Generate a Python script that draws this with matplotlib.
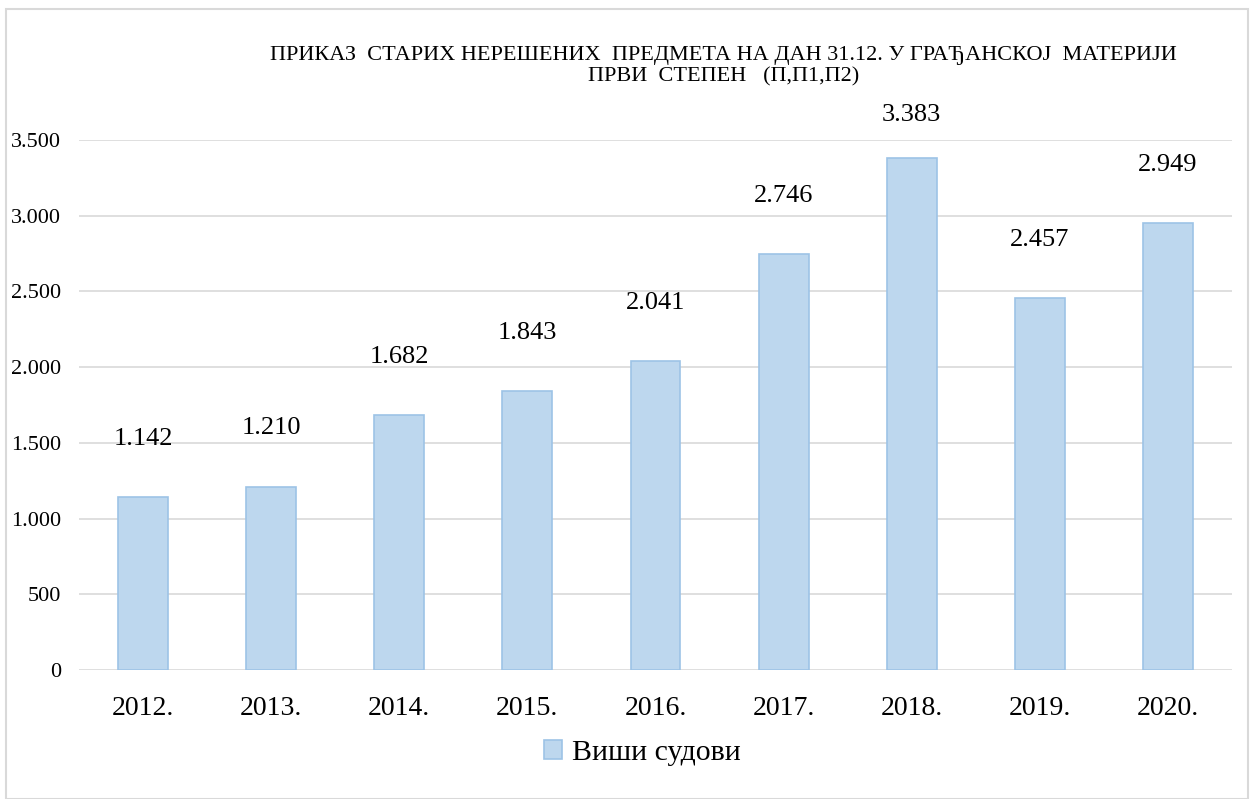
import numpy as np
import matplotlib.pyplot as plt
from matplotlib.patches import Rectangle
from matplotlib.ticker import FuncFormatter

# podaci
godine = ['2012.', '2013.', '2014.', '2015.', '2016.', '2017.', '2018.', '2019.', '2020.']
predmeti = [1142, 1210, 1682, 1843, 2041, 2746, 3383, 2457, 2949]
serija = 'Виши судови'
naslov = 'ПРИКАЗ  СТАРИХ НЕРЕШЕНИХ  ПРЕДМЕТА НА ДАН 31.12. У ГРАЂАНСКОЈ  МАТЕРИЈИ\nПРВИ  СТЕПЕН   (П,П1,П2)'

plt.rcParams['font.family'] = ['Liberation Serif', 'DejaVu Serif']


def tacka(x, pos):
    return f'{int(x):,}'.replace(',', '.')


def main():
    fig = plt.figure(figsize=(12.5, 7.99), dpi=100)
    ax = fig.add_axes([0.0632, 0.1615, 0.9224, 0.6633])

    x = np.arange(len(godine))
    bars = ax.bar(x, predmeti, width=0.39, color='#BDD7EE', edgecolor='#9DC3E6',
                  linewidth=1.2, label=serija, zorder=3)

    # etikete iznad stubaca, ne izlaze iz oblasti grafika
    for b, v in zip(bars, predmeti):
        yl = min(v + 385, 3665)
        ax.text(b.get_x() + b.get_width() / 2, yl, tacka(v, None),
                ha='center', va='center', fontsize=19, clip_on=False)

    ax.set_xlim(-0.5, len(godine) - 0.5)
    ax.set_ylim(0, 3500)
    ax.set_yticks(np.arange(0, 3501, 500))
    ax.yaxis.set_major_formatter(FuncFormatter(tacka))
    ax.set_xticks(x)
    ax.set_xticklabels(godine, fontsize=20)
    ax.tick_params(axis='y', labelsize=16, length=0, pad=13)
    ax.tick_params(axis='x', length=0, pad=19)
    ax.grid(axis='y', color='#D9D9D9', linewidth=1.2, zorder=0)
    for s in ax.spines.values():
        s.set_visible(False)

    fig.text(0.579, 0.917, naslov, ha='center', va='center', fontsize=16,
             linespacing=1.15)

    fig.legend(loc='center', bbox_to_anchor=(0.514, 0.058), frameon=False,
               fontsize=21.5, handlelength=0.6, handleheight=0.6,
               handletextpad=0.35)

    # okvir oko grafika
    fig.patches.append(Rectangle((0.005, 0.0), 0.993, 0.989, transform=fig.transFigure,
                                 fill=False, edgecolor='#D9D9D9', linewidth=1.5))

    fig.savefig('out.png', dpi=100)


if __name__ == "__main__":
    main()
